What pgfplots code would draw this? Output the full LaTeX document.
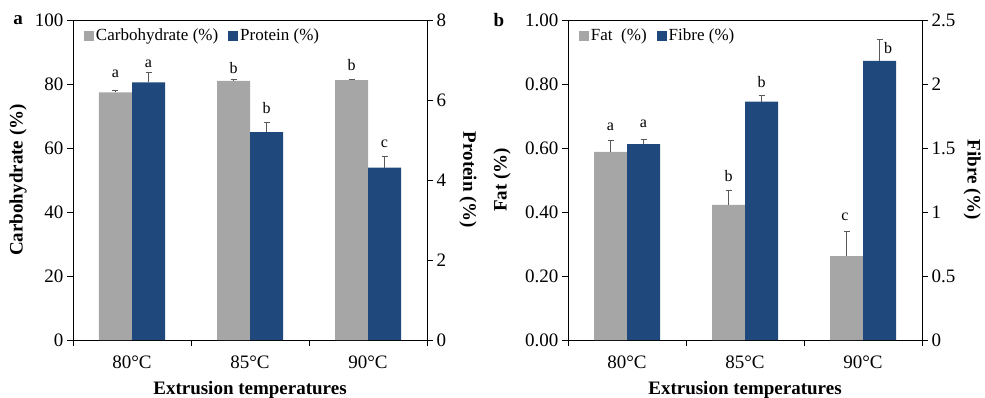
\documentclass[border=0pt]{standalone}
\usepackage{fontspec}
\setmainfont{Liberation Serif}
\usepackage{pgfplots}
\pgfplotsset{compat=1.18}
\definecolor{bargray}{HTML}{A6A6A6}
\definecolor{barblue}{HTML}{1F497D}
\definecolor{errc}{HTML}{595959}
\newcommand{\tickfont}{\fontsize{19}{19}\selectfont}
\newcommand{\letfont}{\fontsize{16}{16}\selectfont}
\newcommand{\legfont}{\fontsize{17}{17}\selectfont}
\pgfplotsset{
  ybar legend/.style={/pgfplots/legend image code/.code={\fill[##1] (0pt,-5pt) rectangle (10pt,5pt);}},
  base/.style={scale only axis, width=354pt, height=320pt,
    xmin=-0.5, xmax=2.5, ymin=0, ybar, bar width=33pt, clip=false,
    /pgf/number format/assume math mode=true,
    tick label style={font=\tickfont},
    label style={font=\bfseries\tickfont},
    tick align=outside, major tick length=6pt,
    axis line style={line width=0.7pt},
    every tick/.style={black, line width=0.7pt}},
  leftax/.style={base, tick pos=left,
    xtick={-0.5,0.5,1.5,2.5}, xticklabels={},
    extra x ticks={0,1,2}, extra x tick labels={80°C,85°C,90°C},
    extra x tick style={major tick length=0pt, tick style={draw=none}},
    xticklabel style={yshift=-12pt},
    xlabel={Extrusion temperatures},
    xlabel style={at={(axis description cs:0.5,-0.155)}, anchor=center}},
  rightax/.style={base, axis x line=none, axis y line*=right,
    legend style={draw=none, fill=none, font=\legfont, legend columns=2,
      at={(axis description cs:0.022,0.985)}, anchor=north west,
      /tikz/every even column/.append style={column sep=8pt}},
    legend cell align=left},
  errs/.style={error bars/.cd, y dir=plus, y explicit,
    error bar style={errc, line width=0.7pt},
    error mark options={errc, rotate=90, mark size=3pt, line width=0.7pt}}
}
\begin{document}
\begin{tikzpicture}
\useasboundingbox (0,0) rectangle (985pt,397pt);
% ---------- panel a ----------
\begin{axis}[leftax, at={(73pt,57pt)}, anchor=south west,
  ymax=100, ytick={0,20,40,60,80,100},
  ylabel={Carbohydrate (\%)},
  ylabel style={at={(axis description cs:-0.155,0.5)}, anchor=center}]
\addplot[fill=bargray, draw=none, bar shift=-16.5pt, errs]
  coordinates {(0,77.4) +- (0,0.5) (1,81.0) +- (0,0.3) (2,81.2) +- (0,0.4)};
\node[font=\letfont] at ([xshift=-16.5pt]axis cs:0,83.1) {a};
\node[font=\letfont] at ([xshift=16.5pt]axis cs:0,86.3) {a};
\node[font=\letfont] at ([xshift=-16.5pt]axis cs:1,85.0) {b};
\node[font=\letfont] at ([xshift=16.5pt]axis cs:1,72.5) {b};
\node[font=\letfont] at ([xshift=-16.5pt]axis cs:2,85.9) {b};
\node[font=\letfont] at ([xshift=16.5pt]axis cs:2,61.3) {c};
\end{axis}
\begin{axis}[rightax, at={(73pt,57pt)}, anchor=south west,
  ymax=8, ytick={0,2,4,6,8},
  ylabel={Protein (\%)},
  ylabel style={at={(axis description cs:1.116,0.5)}, anchor=center, rotate=180}]
\addlegendimage{fill=bargray, draw=none, ybar legend}
\addlegendentry{Carbohydrate (\%)}
\addplot[fill=barblue, draw=none, bar shift=16.5pt, errs]
  coordinates {(0,6.44) +- (0,0.26) (1,5.20) +- (0,0.24) (2,4.31) +- (0,0.27)};
\addlegendentry{Protein (\%)}
\end{axis}
% ---------- panel b ----------
\begin{axis}[leftax, at={(568pt,57pt)}, anchor=south west,
  ymax=1, ytick={0,0.2,0.4,0.6,0.8,1},
  yticklabel style={/pgf/number format/.cd, fixed, fixed zerofill, precision=2},
  ylabel={Fat (\%)},
  ylabel style={at={(axis description cs:-0.186,0.5)}, anchor=center}]
\addplot[fill=bargray, draw=none, bar shift=-16.5pt, errs]
  coordinates {(0,0.588) +- (0,0.037) (1,0.422) +- (0,0.045) (2,0.2625) +- (0,0.076)};
\node[font=\letfont] at ([xshift=-16.5pt]axis cs:0,0.667) {a};
\node[font=\letfont] at ([xshift=16.5pt]axis cs:0,0.677) {a};
\node[font=\letfont] at ([xshift=-16.5pt]axis cs:1,0.513) {b};
\node[font=\letfont] at ([xshift=16.5pt]axis cs:1,0.806) {b};
\node[font=\letfont] at ([xshift=-18pt]axis cs:2,0.384) {c};
\node[font=\letfont] at ([xshift=25pt]axis cs:2,0.9125) {b};
\end{axis}
\begin{axis}[rightax, at={(568pt,57pt)}, anchor=south west,
  ymax=2.5, ytick={0,0.5,1,1.5,2,2.5},
  ylabel={Fibre (\%)},
  ylabel style={at={(axis description cs:1.142,0.5)}, anchor=center, rotate=180}]
\addlegendimage{fill=bargray, draw=none, ybar legend}
\addlegendentry{Fat\ \ (\%)}
\addplot[fill=barblue, draw=none, bar shift=16.5pt, errs]
  coordinates {(0,1.53) +- (0,0.04) (1,1.862) +- (0,0.052) (2,2.18) +- (0,0.172)};
\addlegendentry{Fibre (\%)}
\end{axis}
\node[font=\bfseries\tickfont] at (18pt,377pt) {a};
\node[font=\bfseries\tickfont] at (499pt,377pt) {b};
\end{tikzpicture}
\end{document}
